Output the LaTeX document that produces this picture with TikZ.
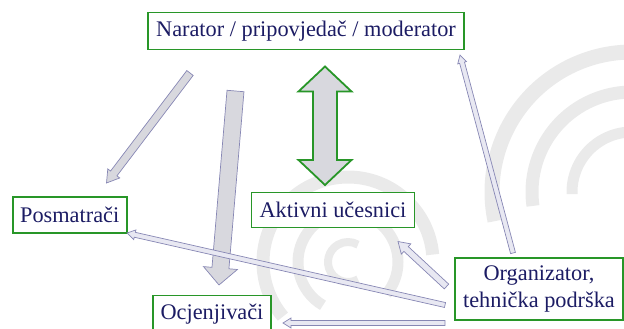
\documentclass[tikz,border=0pt]{standalone}
\usepackage{fontspec}
\setmainfont{Liberation Serif}
\usetikzlibrary{calc}
\definecolor{boxgreen}{RGB}{40,150,40}
\definecolor{navy}{RGB}{28,28,100}
\definecolor{arrline}{RGB}{135,135,180}
\definecolor{arrfill}{RGB}{216,216,222}
\definecolor{thinfill}{RGB}{232,232,242}
\definecolor{wmark}{RGB}{234,234,234}

% single block arrow: #1 start, #2 tip, #3 shaft width, #4 head width, #5 head length, #6 style
\newcommand\blockarrow[6]{%
  \path[#6] let \p1=(#1), \p2=(#2),
    \n1={atan2(\y2-\y1,\x2-\x1)}, \n2={veclen(\x2-\x1,\y2-\y1)} in
    {[shift={(\p1)},rotate=\n1]
     (0pt,{-(#3)/2}) -- ({\n2*1pt-(#5)},{-(#3)/2}) -- ({\n2*1pt-(#5)},{-(#4)/2})
     -- ({\n2*1pt},0pt) -- ({\n2*1pt-(#5)},{(#4)/2}) -- ({\n2*1pt-(#5)},{(#3)/2})
     -- (0pt,{(#3)/2}) -- cycle};}
% double block arrow
\newcommand\dblarrow[6]{%
  \path[#6] let \p1=(#1), \p2=(#2),
    \n1={atan2(\y2-\y1,\x2-\x1)}, \n2={veclen(\x2-\x1,\y2-\y1)} in
    {[shift={(\p1)},rotate=\n1]
     (0pt,0pt) -- (#5,{-(#4)/2}) -- (#5,{-(#3)/2}) -- ({\n2*1pt-(#5)},{-(#3)/2})
     -- ({\n2*1pt-(#5)},{-(#4)/2}) -- ({\n2*1pt},0pt) -- ({\n2*1pt-(#5)},{(#4)/2})
     -- ({\n2*1pt-(#5)},{(#3)/2}) -- (#5,{(#3)/2}) -- (#5,{(#4)/2}) -- cycle};}

\begin{document}
\begin{tikzpicture}[x=1pt,y=-1pt,
  box/.style={draw=boxgreen, line width=1.8pt, fill=white, text=navy,
    font=\fontsize{22.3}{27}\selectfont, inner sep=0pt, align=center},
  bigarrow/.style={draw=arrline, fill=arrfill, line width=0.7pt, line join=miter},
  thinarrow/.style={draw=arrline, fill=thinfill, line width=0.7pt, line join=miter},
  greenarrow/.style={draw=boxgreen, fill=arrfill, line width=1.8pt, line join=miter},
  wm/.style={draw=wmark}]
\useasboundingbox (0,0) rectangle (624,329);

% watermark swirl
\draw[wm, line width=8pt]  ([shift={(60:20)}]348,262) arc[start angle=60, end angle=300, radius=20];
\draw[wm, line width=11pt] ([shift={(120:50)}]348,262) arc[start angle=120, end angle=400, radius=50];
\draw[wm, line width=13pt] ([shift={(140:85)}]348,262) arc[start angle=140, end angle=355, radius=85];
\draw[wm, line width=15pt] ([shift={(168:140)}]632,192) arc[start angle=168, end angle=272, radius=140];
\draw[wm, line width=13pt] ([shift={(172:100)}]632,192) arc[start angle=172, end angle=276, radius=100];
\draw[wm, line width=11pt] ([shift={(178:60)}]632,192) arc[start angle=178, end angle=285, radius=60];

% nodes
\node[box, minimum width=316pt, minimum height=37pt] (nar) at (306,31) {Narator / pripovjedač / moderator};
\node[box, minimum width=114pt, minimum height=36pt] (pos) at (69.7,215) {Posmatrači};
\node[box, minimum width=163pt, minimum height=35pt] (akt) at (333,210) {Aktivni učesnici};
\node[box, minimum width=168pt, minimum height=62pt] (org) at (539,289) {Organizator,\\tehnička podrška};
\node[box, minimum width=118pt, minimum height=38pt] (ocj) at (212,314.5) {Ocjenjivači};

% connector end points
\coordinate (n1s) at (190,73);    \coordinate (n1e) at (106.5,183);
\coordinate (n2s) at (235.5,91);  \coordinate (n2e) at (219,285);
\coordinate (d1) at (325,66.5);   \coordinate (d2) at (325,185);
\coordinate (o1s) at (513,253);   \coordinate (o1e) at (460,55);
\coordinate (o2s) at (446.5,286.5); \coordinate (o2e) at (398,241.5);
\coordinate (o3s) at (445,305);   \coordinate (o3e) at (127,233);
\coordinate (o4s) at (445,323);   \coordinate (o4e) at (283,323);

% arrows
\blockarrow{n1s}{n1e}{8pt}{15pt}{12pt}{bigarrow}
\blockarrow{n2s}{n2e}{17pt}{34pt}{17pt}{bigarrow}
\dblarrow{d1}{d2}{24pt}{53pt}{25pt}{greenarrow}
\blockarrow{o1s}{o1e}{5pt}{9pt}{8pt}{thinarrow}
\blockarrow{o2s}{o2e}{6.5pt}{14pt}{11pt}{thinarrow}
\blockarrow{o3s}{o3e}{5pt}{10pt}{8pt}{thinarrow}
\blockarrow{o4s}{o4e}{5pt}{10pt}{8pt}{thinarrow}
\end{tikzpicture}
\end{document}
